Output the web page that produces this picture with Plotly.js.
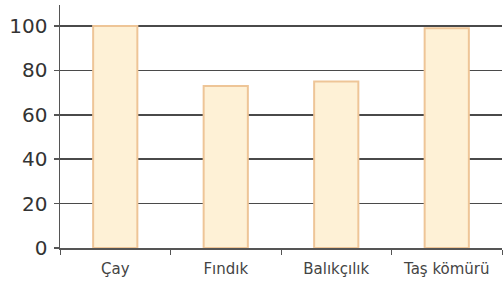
<!DOCTYPE html>
<html>
<head>
<meta charset="utf-8">
<script src="https://cdn.plot.ly/plotly-3.0.1.min.js"></script>
<style>html,body{margin:0;padding:0;background:#fff;}#chart{width:504px;height:287px;}</style>
</head>
<body>
<div id="chart"></div>
<script>
const categories = ["Çay", "Fındık", "Balıkçılık", "Taş kömürü"];
const values = [100, 73, 75, 99];
const yTicks = [0, 20, 40, 60, 80, 100];

const trace = {
  type: "bar",
  x: categories,
  y: values,
  width: 0.4,
  marker: { color: "#fef1d6", line: { color: "#eec597", width: 2 } },
  hoverinfo: "none"
};

const layout = {
  width: 504, height: 287,
  margin: { l: 60, r: 2, t: 5, b: 39 },
  paper_bgcolor: "#ffffff",
  plot_bgcolor: "#ffffff",
  showlegend: false,
  font: { family: "DejaVu Sans, sans-serif", color: "#3a3a3a" },
  xaxis: {
    type: "category",
    range: [-0.5, 3.5],
    showgrid: false,
    showline: true, linecolor: "#555", linewidth: 1.5,
    ticks: "outside", tickson: "boundaries", ticklen: 5, tickcolor: "#555", tickwidth: 1,
    tickfont: { size: 15, color: "#444" },
    ticklabelstandoff: 6,
    zeroline: false
  },
  yaxis: {
    range: [0, 109.5],
    tickvals: yTicks,
    ticktext: yTicks.map(String),
    showgrid: true, gridcolor: "#4a4a4a", gridwidth: 1.5,
    showline: true, linecolor: "#555", linewidth: 1.5,
    ticks: "outside", ticklen: 5, tickcolor: "#555", tickwidth: 1.5,
    tickfont: { size: 20, color: "#333" },
    ticklabelstandoff: 2,
    zeroline: false
  }
};

Plotly.newPlot("chart", [trace], layout, { staticPlot: true, displayModeBar: false });
</script>
</body>
</html>
